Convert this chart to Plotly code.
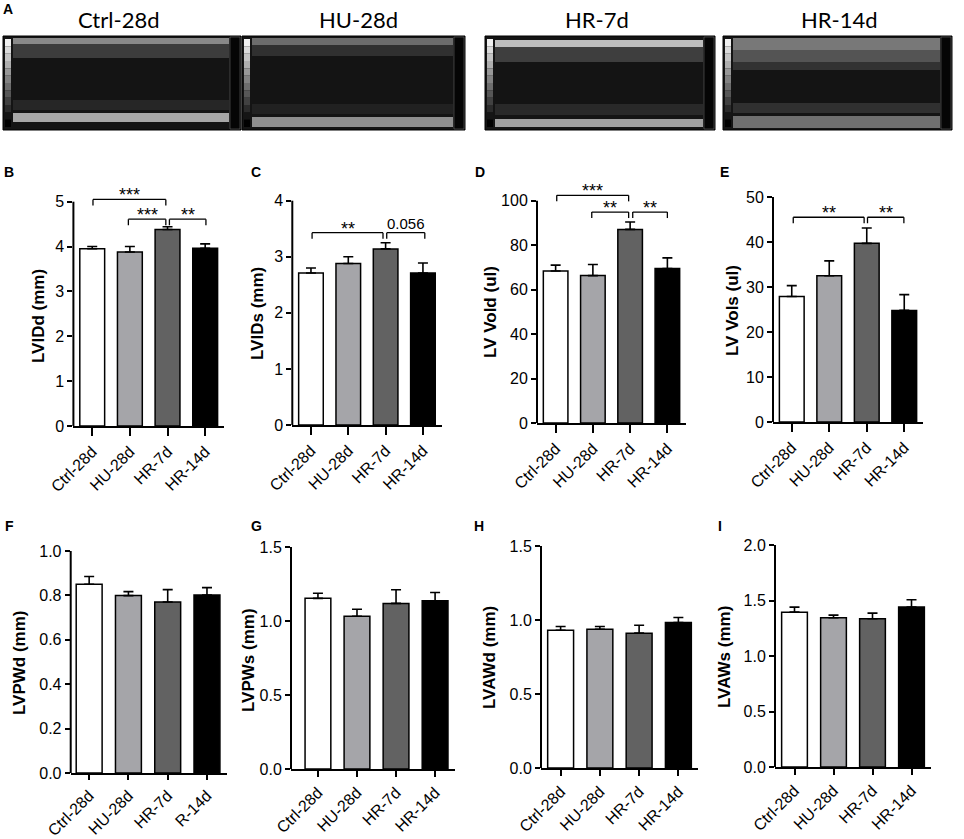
import plotly.graph_objects as go

W, H = 964, 839

# ---------------- data ----------------
groups = ['Ctrl-28d', 'HU-28d', 'HR-7d', 'HR-14d']
groups_f = ['Ctrl-28d', 'HU-28d', 'HR-7d', 'R-14d']   # label as printed in panel F
image_titles = ['Ctrl-28d', 'HU-28d', 'HR-7d', 'HR-14d']

lvidd = [3.95, 3.88, 4.38, 3.96]
lvidd_err = [0.05, 0.12, 0.06, 0.10]
lvids = [2.71, 2.88, 3.14, 2.71]
lvids_err = [0.09, 0.12, 0.11, 0.18]
lvvold = [68.4, 66.3, 87.1, 69.5]
lvvold_err = [2.6, 5.0, 3.3, 4.8]
lvvols = [27.9, 32.5, 39.7, 24.8]
lvvols_err = [2.4, 3.3, 3.4, 3.5]
lvpwd = [0.850, 0.799, 0.770, 0.802]
lvpwd_err = [0.035, 0.018, 0.056, 0.033]
lvpws = [1.153, 1.032, 1.119, 1.137]
lvpws_err = [0.034, 0.047, 0.092, 0.056]
lvawd = [0.931, 0.938, 0.911, 0.983]
lvawd_err = [0.025, 0.018, 0.054, 0.034]
lvaws = [1.395, 1.344, 1.335, 1.441]
lvaws_err = [0.045, 0.024, 0.051, 0.066]

# significance brackets: (from index, to index, height, label)
sig_b = [(0.02, 1.955, 5.05, '***'), (0.96, 1.955, 4.61, '***'), (2.05, 3.02, 4.61, '**')]
sig_c = [(0.03, 1.93, 3.43, '**'), (2.03, 3.05, 3.43, '0.056')]
sig_d = [(0.03, 1.96, 102.4, '***'), (0.97, 1.96, 94.9, '**'), (2.07, 3.0, 94.9, '**')]
sig_e = [(0.04, 1.93, 45.5, '**'), (2.02, 2.99, 45.5, '**')]

# ---------------- style ----------------
bar_colors = ['#ffffff', '#a5a5a9', '#626262', '#000000']
FONT = 'Liberation Sans, Arial, sans-serif'

fig = go.Figure()
shapes = []
annotations = []


def px_x(p):
    return p / W


def px_y(p):
    return 1 - p / H


panels = [
    # letter, values, errs, ticklabels, title, xl, xr, xrange, y0px, ymaxpx, ymax, toppx, dtick, fmt, title_x, title_y, letter_xy, sig, xticklen
    ('B', lvidd, lvidd_err, groups, 'LVIDd (mm)', 73.4, 224, (-0.5, 3.5), 426, 201.7, 5, 178, 1, '', 39, 316, (9, 172), sig_b, 8),
    ('C', lvids, lvids_err, groups, 'LVIDs (mm)', 292.3, 441.6, (-0.5, 3.5), 425, 200.7, 4, 178, 1, '', 258, 314, (256, 172), sig_c, 8),
    ('D', lvvold, lvvold_err, groups, 'LV Vold (ul)', 537, 686, (-0.5, 3.5), 423, 200.7, 100, 178, 20, '', 491, 312, (480, 172), sig_d, 8),
    ('E', lvvols, lvvols_err, groups, 'LV Vols (ul)', 773, 923, (-0.5, 3.5), 422, 197, 50, 178, 10, '', 732, 311, (724, 172), sig_e, 8),
    ('F', lvpwd, lvpwd_err, groups_f, 'LVPWd (mm)', 70.7, 227, (-0.47, 3.51), 773, 551, 1.0, 535, 0.2, '.1f', 19, 663, (9, 526), [], 5),
    ('G', lvpws, lvpws_err, groups, 'LVPWs (mm)', 291, 455, (-0.69, 3.51), 769, 547, 1.5, 535, 0.5, '.1f', 248, 660, (256, 526), [], 6),
    ('H', lvawd, lvawd_err, groups, 'LVAWd (mm)', 541, 698, (-0.5, 3.5), 768, 546, 1.5, 535, 0.5, '.1f', 489, 658, (479, 526), [], 6),
    ('I', lvaws, lvaws_err, groups, 'LVAWs (mm)', 775, 931, (-0.5, 3.5), 767, 545, 2.0, 535, 0.5, '.1f', 724, 657, (720, 526), [], 6),
]

layout_axes = {}
for k, (letter, vals, errs, ticks, title, xl, xr, xrng, y0px, ymaxpx, ymax, toppx, dtick, fmt,
        tx, ty, lxy, sig, xtl) in enumerate(panels, start=1):
    xa = 'x' if k == 1 else f'x{k}'
    ya = 'y' if k == 1 else f'y{k}'
    xkey = 'xaxis' if k == 1 else f'xaxis{k}'
    ykey = 'yaxis' if k == 1 else f'yaxis{k}'
    ppu = (y0px - ymaxpx) / ymax
    ytop = (y0px - toppx) / ppu

    fig.add_trace(go.Bar(
        x=groups, y=vals, xaxis=xa, yaxis=ya, width=0.66,
        marker=dict(color=bar_colors, line=dict(color='black', width=1.5)),
        error_y=dict(type='data', symmetric=False, array=errs, arrayminus=[0] * len(errs),
                     color='black', thickness=1.6, width=5),
        showlegend=False, hoverinfo='skip'))

    nt = int(round(ymax / dtick))
    tv = [round(i * dtick, 4) for i in range(nt + 1)]
    tt = [format(v, fmt) if fmt else str(int(v)) for v in tv]

    layout_axes[xkey] = dict(
        domain=[px_x(xl), px_x(xr)], anchor=ya, range=list(xrng), type='category',
        automargin=False,
        showline=True, linewidth=2, linecolor='black', ticks='outside', ticklen=xtl,
        tickwidth=2, tickcolor='black', tickangle=-45, tickvals=groups, ticktext=ticks,
        tickfont=dict(family=FONT, size=16, color='black'), showgrid=False, zeroline=False,
        fixedrange=True)
    layout_axes[ykey] = dict(
        domain=[px_y(y0px), px_y(toppx)], anchor=xa, range=[0, ytop], automargin=False,
        showline=False, ticks='outside', ticklen=5, tickwidth=2, tickcolor='black',
        tickvals=tv, ticktext=tt, tickfont=dict(family=FONT, size=16, color='black'),
        showgrid=False, zeroline=False, fixedrange=True)

    # y-axis line only up to the last tick
    shapes.append(dict(type='line', xref=f'{xa} domain', yref=ya, x0=0, x1=0, y0=0, y1=ymax,
                       line=dict(color='black', width=2)))

    # brackets
    drop = 6 / ppu
    for (a, b, yv, lab) in sig:
        for (xx0, xx1, yy0, yy1) in [(a, a, yv - drop, yv), (a, b, yv, yv), (b, b, yv, yv - drop)]:
            shapes.append(dict(type='line', xref=xa, yref=ya, x0=xx0, x1=xx1, y0=yy0, y1=yy1,
                               line=dict(color='black', width=1.3)))
        star = '*' in lab
        annotations.append(dict(x=(a + b) / 2, y=yv, xref=xa, yref=ya, text=lab, showarrow=False,
                                yanchor='bottom', yshift=-8 if star else -1,
                                font=dict(family=FONT, size=18 if star else 15, color='black')))

    # axis title
    annotations.append(dict(x=px_x(tx), y=px_y(ty), xref='paper', yref='paper', text=title,
                            textangle=-90, showarrow=False, xanchor='center', yanchor='middle',
                            font=dict(family=FONT, size=17, color='black', weight='bold')))
    # panel letter
    annotations.append(dict(x=px_x(lxy[0]), y=px_y(lxy[1]), xref='paper', yref='paper',
                            text=letter, showarrow=False, xanchor='center', yanchor='middle',
                            font=dict(family=FONT, size=14, color='black', weight='bold')))

# ---------------- panel A: echo image placeholders ----------------
annotations.append(dict(x=px_x(8), y=px_y(9), xref='paper', yref='paper', text='A',
                        showarrow=False, xanchor='center', yanchor='middle',
                        font=dict(family=FONT, size=14, color='black', weight='bold')))

img_boxes = [(3, 241), (242, 465), (485, 715), (723, 952)]
img_title_x = [118, 358, 597, 839]
img_top, img_bot = 36, 130
# decorative tissue bands per image: (top, bottom, colour)
img_bands = [
    [(38, 44, '#b0b0b0'), (44, 58, '#4a4a4a'), (100, 110, '#2c2c2c'), (113, 122, '#d8d8d8')],
    [(38, 45, '#8a8a8a'), (45, 56, '#3a3a3a'), (104, 114, '#262626'), (117, 127, '#b8b8b8')],
    [(40, 47, '#f5f5f5'), (47, 62, '#4c4c4c'), (104, 115, '#303030'), (119, 127, '#cfcfcf')],
    [(38, 50, '#9a9a9a'), (50, 62, '#6a6a6a'), (62, 70, '#3c3c3c'), (103, 113, '#3a3a3a'),
     (116, 128, '#8e8e8e')],
]

for (x0, x1), tx_, bands, ttl in zip(img_boxes, img_title_x, img_bands, image_titles):
    shapes.append(dict(type='rect', xref='paper', yref='paper', x0=px_x(x0), x1=px_x(x1),
                       y0=px_y(img_bot), y1=px_y(img_top), fillcolor='#141414',
                       line=dict(color='black', width=1), layer='below'))
    for (b0, b1, col) in bands:
        shapes.append(dict(type='rect', xref='paper', yref='paper', x0=px_x(x0 + 10),
                           x1=px_x(x1 - 12), y0=px_y(b1), y1=px_y(b0), fillcolor=col,
                           opacity=0.75, line=dict(width=0), layer='below'))
    # grey scale strip on the left
    nsteps = 12
    for s in range(nsteps):
        g = int(240 - s * 240 / (nsteps - 1))
        ya0 = img_top + 3 + s * (img_bot - img_top - 6) / nsteps
        ya1 = ya0 + (img_bot - img_top - 6) / nsteps
        shapes.append(dict(type='rect', xref='paper', yref='paper', x0=px_x(x0 + 2),
                           x1=px_x(x0 + 8), y0=px_y(ya1), y1=px_y(ya0),
                           fillcolor=f'rgb({g},{g},{g})', line=dict(width=0), layer='below'))
    # scale strip on the right
    shapes.append(dict(type='rect', xref='paper', yref='paper', x0=px_x(x1 - 11),
                       x1=px_x(x1 - 1), y0=px_y(img_bot - 1), y1=px_y(img_top + 1),
                       fillcolor='#050505', line=dict(color='#777777', width=0.5), layer='below'))
    annotations.append(dict(x=px_x(tx_), y=px_y(20), xref='paper', yref='paper', text=ttl,
                            showarrow=False, xanchor='center', yanchor='middle',
                            font=dict(family='Lato, Open Sans, sans-serif', size=22,
                                      color='black')))

fig.update_layout(
    width=W, height=H, margin=dict(l=0, r=0, t=0, b=0, autoexpand=False),
    paper_bgcolor='white', plot_bgcolor='rgba(0,0,0,0)',
    showlegend=False, bargap=0.34,
    shapes=shapes, annotations=annotations,
    **layout_axes)

fig.write_html('out.html', config={'displayModeBar': False},
               post_script="document.body.style.margin='0';document.body.style.overflow='hidden';")
